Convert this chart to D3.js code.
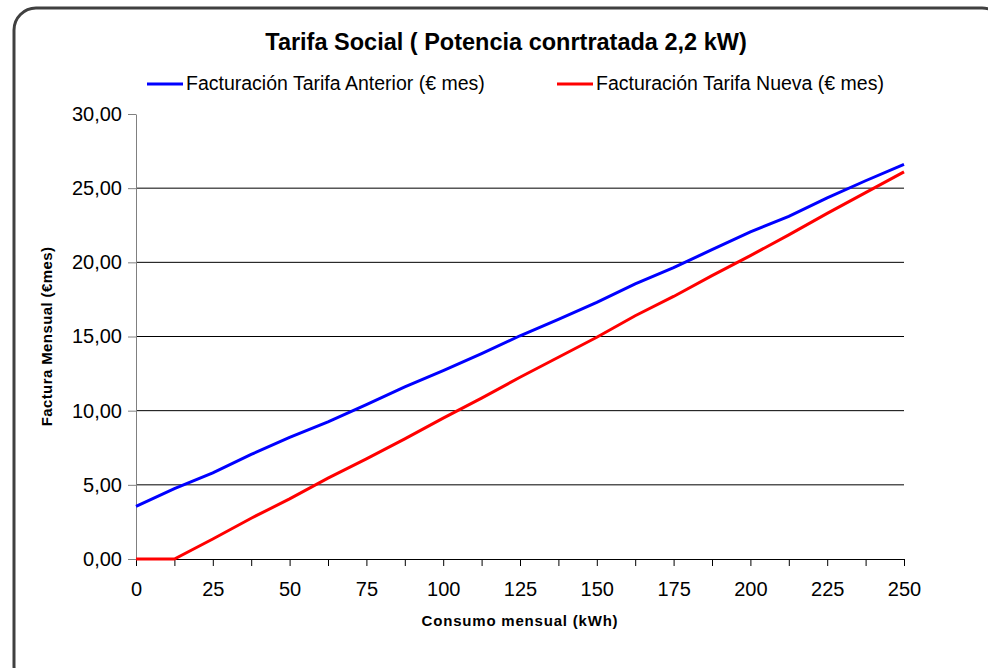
<!DOCTYPE html>
<html>
<head>
<meta charset="utf-8">
<script src="https://cdn.jsdelivr.net/npm/d3@7"></script>
<style>
  body { margin: 0; background: #fff; }
  text { font-family: "Liberation Sans", Arial, sans-serif; }
</style>
</head>
<body>
<div id="chart"></div>
<script>
// consumo mensual (kWh), cada 12,5
const consumo = [0, 12.5, 25, 37.5, 50, 62.5, 75, 87.5, 100, 112.5, 125, 137.5, 150, 162.5, 175, 187.5, 200, 212.5, 225, 237.5, 250];
const tarifaAnterior = [3.55, 4.75, 5.8, 7.05, 8.2, 9.25, 10.4, 11.6, 12.7, 13.85, 15.05, 16.15, 17.3, 18.55, 19.65, 20.85, 22.05, 23.1, 24.35, 25.5, 26.6];
const tarifaNueva = [0, 0, 1.35, 2.75, 4.05, 5.45, 6.75, 8.1, 9.5, 10.85, 12.25, 13.6, 14.95, 16.4, 17.7, 19.1, 20.45, 21.85, 23.3, 24.7, 26.1];
const xTicks = [0, 25, 50, 75, 100, 125, 150, 175, 200, 225, 250];
const yTicks = [0, 5, 10, 15, 20, 25, 30];

const W = 988, H = 668;
const margin = {top: 114, right: 84, bottom: 109, left: 136};

const svg = d3.select("#chart").append("svg")
    .attr("width", W)
    .attr("height", H);

// marco redondeado
svg.append("rect")
    .attr("x", 14).attr("y", 8)
    .attr("width", 990).attr("height", 680)
    .attr("rx", 22).attr("ry", 22)
    .attr("fill", "#fff")
    .attr("stroke", "#404040")
    .attr("stroke-width", 3);

const x = d3.scaleLinear().domain([0, 250]).range([margin.left, W - margin.right]);
const y = d3.scaleLinear().domain([0, 30]).range([H - margin.bottom, margin.top]);

// lineas de rejilla
svg.append("g")
    .selectAll("line")
    .data(yTicks.filter(d => d > 0 && d < 30))
    .enter().append("line")
    .attr("x1", x(0)).attr("x2", x(250))
    .attr("y1", d => y(d)).attr("y2", d => y(d))
    .attr("stroke", "#000")
    .attr("stroke-width", 1);

// eje Y
const yAxis = svg.append("g")
    .attr("transform", "translate(" + x(0) + ",0)")
    .call(d3.axisLeft(y).tickValues(yTicks).tickSize(8).tickSizeOuter(0)
        .tickFormat(d => d3.format(".2f")(d).replace(".", ",")));
yAxis.select(".domain").attr("stroke", "#808080");
yAxis.selectAll(".tick line").attr("stroke", "#808080");
yAxis.selectAll("text")
    .attr("font-size", 20)
    .attr("fill", "#000")
    .attr("x", -14);

// eje X (marcas cada 12,5)
const xAxis = svg.append("g")
    .attr("transform", "translate(0," + y(0) + ")")
    .call(d3.axisBottom(x).tickValues(d3.range(0, 250.1, 12.5)).tickSize(7).tickSizeOuter(0)
        .tickFormat(d => xTicks.includes(d) ? d : ""));
xAxis.select(".domain").attr("stroke", "#000");
xAxis.selectAll(".tick line").attr("stroke", "#000");
xAxis.selectAll("text")
    .attr("font-size", 20)
    .attr("fill", "#000")
    .attr("y", 23);

// series
const line = d3.line()
    .x((d, i) => x(consumo[i]))
    .y(d => y(d));

svg.append("path")
    .datum(tarifaAnterior)
    .attr("d", line)
    .attr("fill", "none")
    .attr("stroke", "#0000ff")
    .attr("stroke-width", 3);

svg.append("path")
    .datum(tarifaNueva)
    .attr("d", line)
    .attr("fill", "none")
    .attr("stroke", "#ff0000")
    .attr("stroke-width", 3);

// titulo
svg.append("text")
    .attr("x", 506).attr("y", 50)
    .attr("text-anchor", "middle")
    .attr("font-size", 23.5)
    .attr("font-weight", "bold")
    .text("Tarifa Social ( Potencia conrtratada 2,2 kW)");

// leyenda
const legend = [
    {name: "Facturación Tarifa Anterior (€ mes)", color: "#0000ff", x: 147},
    {name: "Facturación Tarifa Nueva (€ mes)", color: "#ff0000", x: 557}
];
const lg = svg.append("g").selectAll("g")
    .data(legend)
    .enter().append("g")
    .attr("transform", d => "translate(" + d.x + ",84)");
lg.append("line")
    .attr("x1", 0).attr("x2", 36)
    .attr("stroke", d => d.color)
    .attr("stroke-width", 3);
lg.append("text")
    .attr("x", 39).attr("y", 6)
    .attr("font-size", 19.5)
    .text(d => d.name);

// titulos de ejes
svg.append("text")
    .attr("transform", "translate(52," + ((y(0) + y(30)) / 2) + ") rotate(-90)")
    .attr("text-anchor", "middle")
    .attr("font-size", 15)
    .attr("font-weight", "bold")
    .attr("letter-spacing", 0.4)
    .text("Factura Mensual (€mes)");

svg.append("text")
    .attr("x", 520).attr("y", 626)
    .attr("text-anchor", "middle")
    .attr("font-size", 15)
    .attr("font-weight", "bold")
    .attr("letter-spacing", 0.8)
    .text("Consumo mensual (kWh)");
</script>
</body>
</html>
